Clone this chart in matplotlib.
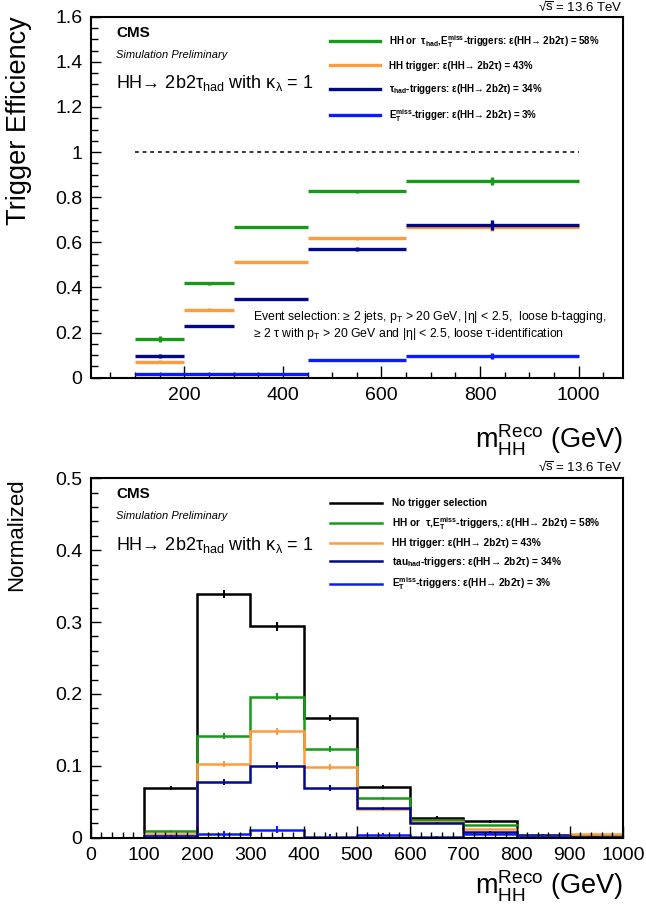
import matplotlib
matplotlib.use('Agg')
import matplotlib.pyplot as plt
from matplotlib.lines import Line2D
from matplotlib.ticker import MultipleLocator, FuncFormatter
import numpy as np

plt.rcParams['font.family'] = ['Liberation Sans', 'DejaVu Sans']
plt.rcParams['mathtext.fontset'] = 'custom'
plt.rcParams['mathtext.rm'] = 'Liberation Sans'
plt.rcParams['mathtext.it'] = 'Liberation Sans:italic'
plt.rcParams['mathtext.bf'] = 'Liberation Sans:bold'

# --- efficiency vs m_HH (top) ---
edges_eff = [100, 200, 300, 450, 650, 1000]
eff_or = [0.171, 0.418, 0.668, 0.826, 0.872]
eff_hh = [0.071, 0.302, 0.512, 0.617, 0.668]
eff_tau = [0.097, 0.230, 0.347, 0.571, 0.676]
eff_met = [0.015, 0.017, 0.017, 0.077, 0.097]
err_or = [0.012, 0.006, 0.004, 0.006, 0.016]
err_hh = [0.008, 0.006, 0.004, 0.008, 0.018]
err_tau = [0.009, 0.005, 0.004, 0.009, 0.022]
err_met = [0.004, 0.002, 0.002, 0.004, 0.012]

# --- normalized m_HH distributions (bottom) ---
edges_norm = [0, 100, 200, 300, 400, 500, 600, 700, 800, 900, 1000]
norm_all = [0.0, 0.069, 0.339, 0.294, 0.167, 0.071, 0.028, 0.023, 0.004, 0.002]
norm_or = [0.0, 0.010, 0.142, 0.196, 0.123, 0.055, 0.025, 0.017, 0.003, 0.002]
norm_hh = [0.0, 0.005, 0.103, 0.148, 0.098, 0.040, 0.022, 0.012, 0.003, 0.005]
norm_tau = [0.0, 0.003, 0.078, 0.100, 0.069, 0.041, 0.021, 0.008, 0.003, 0.001]
norm_met = [0.0, 0.002, 0.005, 0.011, 0.0015, 0.004, 0.001, 0.005, 0.003, 0.0]
nerr_all = [0.0, 0.003, 0.006, 0.006, 0.004, 0.003, 0.002, 0.002, 0.001, 0.001]
nerr_sub = [0.0, 0.001, 0.004, 0.005, 0.004, 0.002, 0.001, 0.001, 0.001, 0.001]

c_black = 'black'
c_or = '#17991a'
c_hh = '#ff9a3d'
c_tau = '#00098c'
c_met = '#0a1cff'

eps = 'ε(HH→ 2b2τ)'
met = r'$\mathbf{E_{T}^{miss}}$'
lab_top = [
    r'HH or  $\mathregular{\tau_{had}}$,' + met + '-triggers: ' + eps + ' = 58%',
    'HH trigger: ' + eps + ' = 43%',
    r'$\mathregular{\tau_{had}}$-triggers: ' + eps + ' = 34%',
    met + '-trigger: ' + eps + ' = 3%',
]
lab_bot = [
    'No trigger selection',
    'HH or  τ,' + met + '-triggers,: ' + eps + ' = 58%',
    'HH trigger: ' + eps + ' = 43%',
    r'tau$\mathbf{_{had}}$-triggers: ' + eps + ' = 34%',
    met + '-triggers: ' + eps + ' = 3%',
]

W, H = 646, 908
fig = plt.figure(figsize=(W / 100, H / 100), dpi=100)


def px_axes(left, top, right, bottom):
    return fig.add_axes([left / W, 1 - bottom / H, (right - left) / W, (bottom - top) / H])


def root_fmt(v, pos):
    s = ('%.2f' % v).rstrip('0').rstrip('.')
    return s


def style_axes(ax):
    for sp in ax.spines.values():
        sp.set_linewidth(1.5)
    ax.tick_params(which='both', direction='in', labelsize=14, width=1.0)
    ax.tick_params(axis='y', which='major', length=7, pad=6)
    ax.tick_params(axis='y', which='minor', length=5)
    ax.tick_params(axis='x', which='major', length=8.5, pad=7)
    ax.tick_params(axis='x', which='minor', length=4.3)
    ax.yaxis.set_major_formatter(FuncFormatter(root_fmt))


def header(ax, ytop):
    ax.text(0.0475, 0.955, 'CMS', transform=ax.transAxes, fontsize=11,
            fontweight='bold', va='center', ha='left')
    ax.text(0.0475, 0.894, 'Simulation Preliminary', transform=ax.transAxes,
            fontsize=8, style='italic', va='center', ha='left')
    ax.text(0.0475, 0.815,
            r'HH→ 2b2$\mathregular{\tau_{had}}$ with $\mathregular{\kappa_{\lambda}}$ = 1',
            transform=ax.transAxes, fontsize=13, va='center', ha='left')
    ax.text(1.0, ytop, '√' + r'$\overline{\mathregular{s}}$' + ' = 13.6 TeV',
            transform=ax.transAxes, fontsize=9.5, va='center', ha='right')


# ---------------- top panel ----------------
ax1 = px_axes(90.7, 16.7, 623, 377.7)
edges = np.array(edges_eff)
cent = 0.5 * (edges[1:] + edges[:-1])
half = 0.5 * (edges[1:] - edges[:-1])
ax1.hlines(1.0, edges[0], edges[-1], colors='black', linestyles=(0, (2.5, 2.5)), lw=1.1)
for vals, errs, col in [(eff_or, err_or, c_or), (eff_hh, err_hh, c_hh),
                        (eff_tau, err_tau, c_tau), (eff_met, err_met, c_met)]:
    ax1.errorbar(cent, vals, xerr=half, yerr=errs, fmt='none', ecolor=col,
                 elinewidth=2.4, capsize=0)
ax1.set_xlim(10, 1090)
ax1.set_ylim(0, 1.6)
ax1.xaxis.set_major_locator(MultipleLocator(200))
ax1.xaxis.set_minor_locator(MultipleLocator(50))
ax1.yaxis.set_major_locator(MultipleLocator(0.2))
ax1.yaxis.set_minor_locator(MultipleLocator(0.05))
style_axes(ax1)
ax1.set_ylabel('Trigger Efficiency', fontsize=19.5, loc='top', labelpad=17)
ax1.set_xlabel(r'$\mathregular{m_{HH}^{Reco}}$ (GeV)', fontsize=19.5, loc='right', labelpad=13)
header(ax1, 1.027)
ax1.text(339, 0.169 * 1.6, r'Event selection: ≥ 2 jets, p$\mathregular{_{T}}$ > 20 GeV, |η| < 2.5,  loose b-tagging,',
         fontsize=8.8, va='center', ha='left')
ax1.text(339, 0.120 * 1.6, r'≥ 2 τ with p$\mathregular{_{T}}$ > 20 GeV and |η| < 2.5, loose τ-identification',
         fontsize=8.8, va='center', ha='left')
h_top = [Line2D([], [], color=c, lw=2.4) for c in [c_or, c_hh, c_tau, c_met]]
ax1.legend(h_top, lab_top, loc='upper left', bbox_to_anchor=(0.4496, 0.955),
           borderaxespad=0, borderpad=0, frameon=False, handlelength=5.1,
           handletextpad=1.0, labelspacing=1.14,
           prop={'size': 7, 'weight': 'bold'})

# ---------------- bottom panel ----------------
ax2 = px_axes(90.7, 478.3, 623, 837.7)
edges = np.array(edges_norm)
cent = 0.5 * (edges[1:] + edges[:-1])
series = [(norm_all, nerr_all, c_black), (norm_or, nerr_sub, c_or),
          (norm_hh, nerr_sub, c_hh), (norm_tau, nerr_sub, c_tau),
          (norm_met, nerr_sub, c_met)]
for vals, errs, col in series:
    ax2.stairs(vals, edges, color=col, lw=1.8)
    ax2.errorbar(cent, vals, yerr=errs, fmt='none', ecolor=col, elinewidth=1.5, capsize=0)
ax2.set_xlim(0, 1000)
ax2.set_ylim(0, 0.5)
ax2.xaxis.set_major_locator(MultipleLocator(100))
ax2.xaxis.set_minor_locator(MultipleLocator(20))
ax2.yaxis.set_major_locator(MultipleLocator(0.1))
ax2.yaxis.set_minor_locator(MultipleLocator(0.02))
style_axes(ax2)
ax2.xaxis.set_major_formatter(FuncFormatter(lambda v, p: '%d' % v))
ax2.set_ylabel('Normalized', fontsize=16, loc='top', labelpad=20)
ax2.set_xlabel(r'$\mathregular{m_{HH}^{Reco}}$ (GeV)', fontsize=19.5, loc='right', labelpad=3)
header(ax2, 1.031)
h_bot = [Line2D([], [], color=c, lw=1.8) for c in [c_black, c_or, c_hh, c_tau, c_met]]
ax2.legend(h_bot, lab_bot, loc='upper left', bbox_to_anchor=(0.4496, 0.944),
           borderaxespad=0, borderpad=0, frameon=False, handlelength=5.1,
           handletextpad=1.0, labelspacing=0.65,
           prop={'size': 7.3, 'weight': 'bold'})

fig.savefig('out.png', dpi=100)
